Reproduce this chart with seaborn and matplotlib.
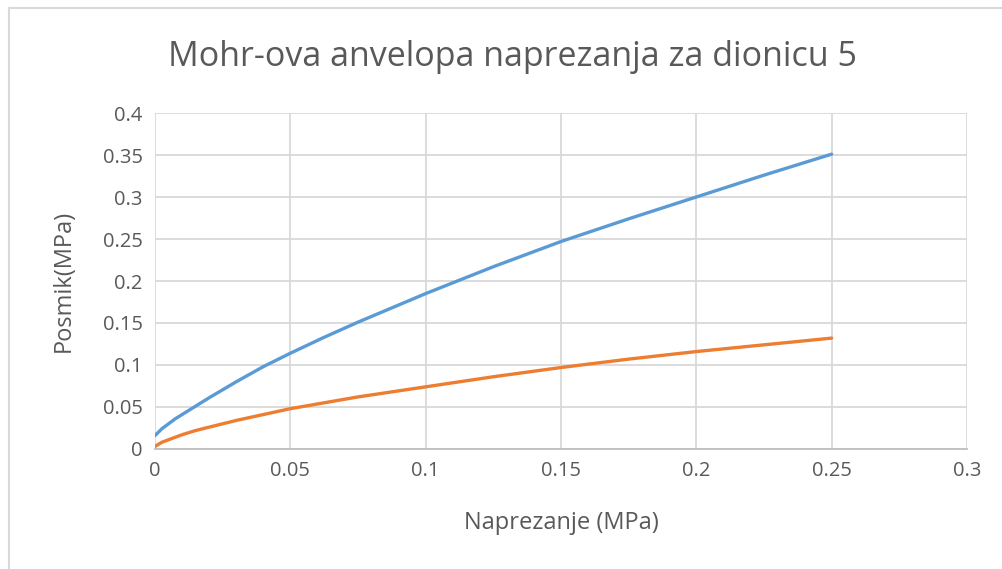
import pandas as pd
import numpy as np
import seaborn as sns
import matplotlib.pyplot as plt

# values
naprezanje = [0, 0.0025, 0.005, 0.0075, 0.01, 0.015, 0.02, 0.03, 0.04, 0.05, 0.0625,
              0.075, 0.0875, 0.1, 0.125, 0.15, 0.175, 0.2, 0.225, 0.25]
posmik_gornja = [0.016, 0.024, 0.030, 0.036, 0.041, 0.051, 0.061, 0.080, 0.098, 0.114, 0.133,
                 0.151, 0.168, 0.185, 0.217, 0.247, 0.274, 0.300, 0.326, 0.351]
posmik_donja = [0.003, 0.008, 0.011, 0.014, 0.017, 0.022, 0.026, 0.034, 0.041, 0.048, 0.055,
                0.062, 0.068, 0.074, 0.086, 0.097, 0.107, 0.116, 0.124, 0.132]

x_ticks = [0, 0.05, 0.1, 0.15, 0.2, 0.25, 0.3]
y_ticks = [0, 0.05, 0.1, 0.15, 0.2, 0.25, 0.3, 0.35, 0.4]

sns.set_style("white")
plt.rcParams["font.family"] = ["Open Sans", "DejaVu Sans"]

txt = "#595959"
fig = plt.figure(figsize=(10.02, 5.69), dpi=100)
ax = fig.add_axes([0.1547, 0.2109, 0.965 - 0.1547, 0.8014 - 0.2109])

sns.lineplot(x=naprezanje, y=posmik_gornja, color="#5B9BD5", linewidth=2.4, ax=ax)
sns.lineplot(x=naprezanje, y=posmik_donja, color="#ED7D31", linewidth=2.4, ax=ax)

ax.set_xlim(0, 0.3)
ax.set_ylim(0, 0.4)
ax.set_xticks(x_ticks)
ax.set_yticks(y_ticks)
ax.set_xticklabels([f"{v:g}" for v in x_ticks])
ax.set_yticklabels([f"{v:g}" for v in y_ticks])
ax.grid(True, color="#d9d9d9", linewidth=1.3)
ax.set_axisbelow(True)
for s in ["top", "right", "left"]:
    ax.spines[s].set_visible(False)
ax.spines["bottom"].set_color("#bfbfbf")
ax.spines["bottom"].set_linewidth(1.3)
ax.tick_params(axis="both", length=0, labelsize=14.5, labelcolor=txt, pad=9)

ax.set_xlabel("Naprezanje (MPa)", fontsize=17, color=txt, va="center")
ax.set_ylabel("Posmik(MPa)", fontsize=17, color=txt, va="center")
ax.xaxis.set_label_coords(0.501, -0.220)
ax.yaxis.set_label_coords(-0.113, 0.5)
fig.suptitle("Mohr-ova anvelopa naprezanja za dionicu 5", fontsize=24.5, color=txt,
             x=0.511, y=0.900, va="center")

# chart area border (left and top edges visible in the reference)
fig.add_artist(plt.Line2D([0.009, 0.009], [0, 0.986], color="#d9d9d9", linewidth=1.5))
fig.add_artist(plt.Line2D([0.009, 1], [0.986, 0.986], color="#d9d9d9", linewidth=1.5))

fig.savefig("out.png", dpi=100)
